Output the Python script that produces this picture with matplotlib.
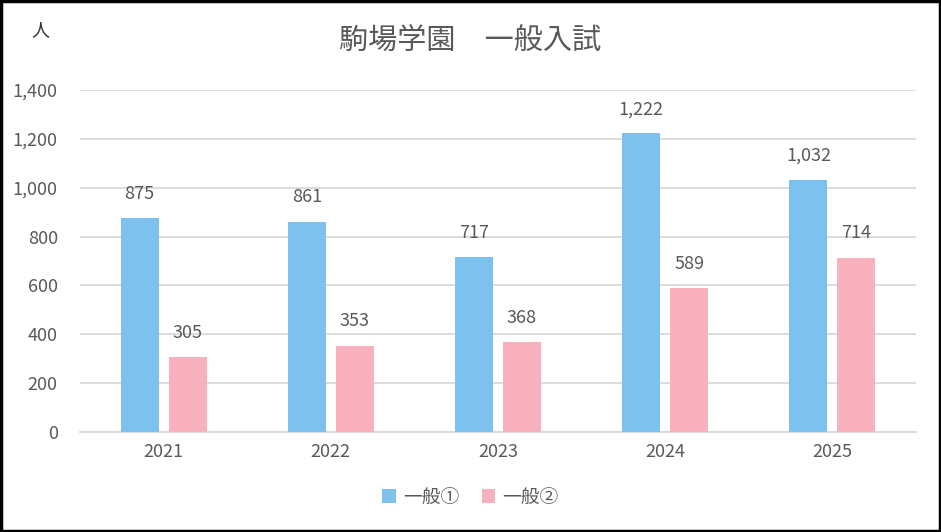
import matplotlib.pyplot as plt
import numpy as np
from matplotlib.patches import Rectangle

plt.rcParams['font.family'] = ['Noto Sans CJK JP', 'DejaVu Sans']

years = ['2021', '2022', '2023', '2024', '2025']
ippan1 = [875, 861, 717, 1222, 1032]
ippan2 = [305, 353, 368, 589, 714]

text_gray = '#595959'
blue = '#7DC1EF'
pink = '#F9B2BD'

fig = plt.figure(figsize=(9.41, 5.32), dpi=100)
ax = fig.add_axes([80 / 941, 1 - 432 / 532, 836 / 941, 342 / 532])

x = np.arange(len(years))
w = 0.227
off = 0.1435
b1 = ax.bar(x - off, ippan1, w, color=blue, label='一般①', zorder=3)
b2 = ax.bar(x + off, ippan2, w, color=pink, label='一般②', zorder=3)

# データラベル
for bars, vals in ((b1, ippan1), (b2, ippan2)):
    for rect, v in zip(bars, vals):
        ax.annotate(f'{v:,}', (rect.get_x() + rect.get_width() / 2, v),
                    xytext=(0, 11), textcoords='offset points',
                    ha='center', va='bottom', fontsize=13, color=text_gray)

ax.set_xlim(-0.5, 4.5)
ax.set_ylim(0, 1400)
ax.set_yticks(range(0, 1401, 200))
ax.set_yticklabels([f'{t:,}' for t in range(0, 1401, 200)])
ax.set_xticks(x)
ax.set_xticklabels(years)
ax.tick_params(axis='both', length=0, labelsize=13, labelcolor=text_gray)
ax.tick_params(axis='y', pad=16)
ax.tick_params(axis='x', pad=8)
ax.grid(axis='y', color='#D9D9D9', linewidth=1.3, zorder=0)
for s in ('top', 'right', 'left'):
    ax.spines[s].set_visible(False)
ax.spines['bottom'].set_color('#D9D9D9')
ax.spines['bottom'].set_linewidth(1.3)

fig.text(0.5, 1 - 42 / 532, '駒場学園　一般入試', ha='center', va='center',
         fontsize=21, color=text_gray)
fig.text(40 / 941, 1 - 30 / 532, '人', ha='center', va='center',
         fontsize=13, color='#333333')

fig.legend(loc='center', bbox_to_anchor=(0.5, 1 - 497 / 532), ncol=2,
           frameon=False, fontsize=13.5, labelcolor=text_gray,
           handlelength=0.7, handleheight=0.7, handletextpad=0.4,
           columnspacing=1.2)

# 外枠
fig.patches.append(Rectangle((0.0015, 0.0025), 0.997, 0.995, transform=fig.transFigure,
                             fill=False, edgecolor='black', linewidth=2.5))

fig.savefig('out.png', dpi=100)
